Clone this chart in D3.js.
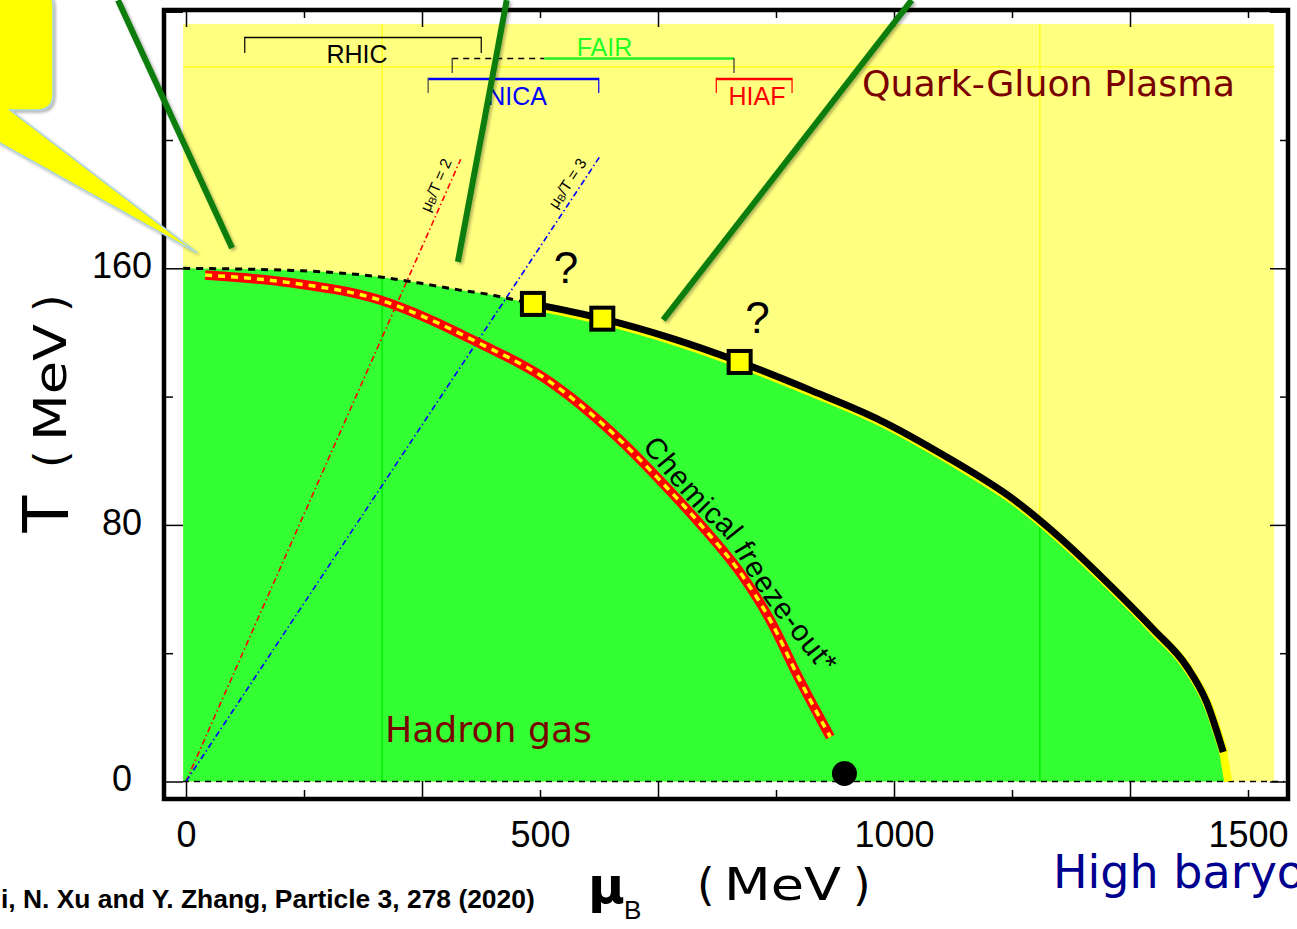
<!DOCTYPE html>
<html><head><meta charset="utf-8">
<script src="https://cdn.jsdelivr.net/npm/d3@7"></script>
<style>
html,body{margin:0;padding:0;background:#fff;overflow:hidden}
svg{display:block}
</style></head><body>
<svg id="chart" width="1297" height="929"></svg>
<script>
// ---------------- data (mu_B and T in MeV) ----------------
const xTickLabels = [0, 500, 1000, 1500];
const yTickLabels = [0, 80, 160];
const xTickStep = 500 / 3;
const yTickStep = 40;

// crossover region (dashed) from mu_B = 0 to the critical point candidates
const crossoverMu = [-4, 165, 274, 330, 387, 434, 467, 490];
const crossoverT  = [160, 159.2, 157.3, 155.4, 153.2, 151.6, 150, 148.9];

// first-order phase boundary
const boundaryMu = [490, 588, 684, 782, 881, 980, 1075, 1171, 1235, 1295, 1366, 1414, 1442, 1465];
const boundaryT  = [148.9, 144.3, 138.3, 130.8, 122.1, 112.7, 101.1, 87.6, 75.9, 63.4, 47.5, 35.7, 24.5, 9.2];
const boundaryEndMu = [1465, 1472];
const boundaryEndT  = [9.2, 0];

// possible critical points
const criticalMu = [490, 588, 782];
const criticalT  = [148.9, 144.3, 130.8];

// chemical freeze-out line
const freezeMu = [27, 151, 274, 340, 411, 504, 613, 669, 730, 787, 825, 867, 910];
const freezeT  = [157.9, 155.4, 150.1, 144.5, 137, 126.1, 106.5, 94, 79.3, 63.8, 50.4, 31.6, 13.9];

// nuclear matter ground state
const nuclearMu = 930;
const nuclearT  = 2.5;

// constant mu_B/T lines
const ratioValues = [2, 3];
const ratioTmax   = [194, 195];

// facility coverage in mu_B
const facilityNames = ["RHIC", "FAIR", "NICA", "HIAF"];
const facilityLo    = [83, 376, 342, 749];
const facilityHi    = [417, 774, 583, 856];
const fairDashedTo  = 506;

// region extents
const regionMuMin = -4.2, regionMuMax = 1537, regionTMax = 236.2;

// pointer lines coming in from the top of the slide: [mu0, T0] -> [mu1, T1]
const pointerMu0 = [-96, 453, 1025];
const pointerT0  = [243.6, 243.6, 243.6];
const pointerMu1 = [65, 384, 674];
const pointerT1  = [166.3, 162, 143.9];
const bubbleTip  = [15.5, 164.8];

// fill seams
const seamMu = [277, 1206];
const seamT  = [222.8];

// ---------------- scales ----------------
const x = d3.scaleLinear().domain([0, 1500]).range([186, 1248]);
const y = d3.scaleLinear().domain([0, 160]).range([781.5, 268.3]);

const frame = {l: 164, r: 1288, t: 10, b: 799};

const svg = d3.select("#chart");
const defs = svg.append("defs");

const sh = defs.append("filter").attr("id", "shadow")
  .attr("x", "-20%").attr("y", "-20%").attr("width", "140%").attr("height", "140%");
sh.append("feDropShadow").attr("dx", 2).attr("dy", 2).attr("stdDeviation", 1.5)
  .attr("flood-color", "#000").attr("flood-opacity", 0.3);

const qgpFill = "#ffff80";
const hadronFill = "#33ff33";

// ---------------- regions ----------------
const greenPts = crossoverMu.map((m, i) => [m, crossoverT[i]])
  .concat(boundaryMu.slice(1).map((m, i) => [m, boundaryT[i + 1]]))
  .concat([[1467, 0]]);
const greenArea = d3.area().x(d => x(d[0])).y0(y(0)).y1(d => y(d[1])).curve(d3.curveMonotoneX);

defs.append("clipPath").attr("id", "greenClip")
  .append("path").attr("d", greenArea(greenPts));

svg.append("rect")
  .attr("x", x(regionMuMin)).attr("y", y(regionTMax))
  .attr("width", x(regionMuMax) - x(regionMuMin)).attr("height", y(0) - y(regionTMax))
  .attr("fill", qgpFill);

function drawSeams(g, color) {
  seamMu.forEach(m => g.append("line")
    .attr("x1", x(m)).attr("x2", x(m)).attr("y1", y(regionTMax)).attr("y2", y(0))
    .attr("stroke", color).attr("stroke-width", 1.5));
  seamT.forEach(t => g.append("line")
    .attr("x1", x(regionMuMin)).attr("x2", x(regionMuMax)).attr("y1", y(t)).attr("y2", y(t))
    .attr("stroke", color).attr("stroke-width", 1.5));
}
drawSeams(svg.append("g"), "#ffff20");

svg.append("path").attr("d", greenArea(greenPts)).attr("fill", hadronFill);
drawSeams(svg.append("g").attr("clip-path", "url(#greenClip)"), "#00ee00");

// ---------------- constant mu_B/T lines ----------------
const ratioColors = ["#ff0000", "#0000ff"];
ratioValues.forEach((r, i) => {
  svg.append("line")
    .attr("x1", x(0)).attr("y1", y(0))
    .attr("x2", x(r * ratioTmax[i])).attr("y2", y(ratioTmax[i]))
    .attr("stroke", ratioColors[i]).attr("stroke-width", 1.6)
    .attr("stroke-dasharray", "6,3,1.5,3");
  // label running along the line
  const tl = 184.4;
  const px = x(r * tl), py = y(tl);
  const dx = x(r * ratioTmax[i]) - x(0), dy = y(ratioTmax[i]) - y(0);
  const len = Math.hypot(dx, dy);
  const nx = dy / len, ny = -dx / len;
  const off = 13;
  const ang = Math.atan2(dy, dx) * 180 / Math.PI;
  const t = svg.append("text")
    .attr("transform", `translate(${px + nx * off},${py + ny * off}) rotate(${ang})`)
    .attr("text-anchor", "middle").attr("dominant-baseline", "central")
    .attr("font-family", "Liberation Sans, Arial, sans-serif").attr("font-size", 15.5)
    .attr("fill", "#000");
  t.append("tspan").text("\u03bc");
  t.append("tspan").attr("font-size", 10.5).attr("dy", 3.5).text("B");
  t.append("tspan").attr("dy", -3.5).text(`/T = ${r}`);
});

// ---------------- T = 0 baseline ----------------
svg.append("line")
  .attr("x1", x(regionMuMin)).attr("x2", x(regionMuMax) + 10)
  .attr("y1", y(0)).attr("y2", y(0))
  .attr("stroke", "#000").attr("stroke-width", 1.4).attr("stroke-dasharray", "6,5");

// ---------------- crossover and phase boundary ----------------
const line = d3.line().x(d => x(d[0])).y(d => y(d[1])).curve(d3.curveMonotoneX);

svg.append("path")
  .attr("d", line(crossoverMu.map((m, i) => [m, crossoverT[i]])))
  .attr("fill", "none").attr("stroke", "#000").attr("stroke-width", 3)
  .attr("stroke-dasharray", "7,6");

const bPts = boundaryMu.map((m, i) => [m, boundaryT[i]]);
svg.append("path")
  .attr("d", d3.line().x(d => x(d[0])).y(d => y(d[1]))(boundaryEndMu.map((m, i) => [m, boundaryEndT[i]])))
  .attr("fill", "none").attr("stroke", "#ffff00").attr("stroke-width", 8);
svg.append("path").attr("d", line(bPts))
  .attr("transform", "translate(1,2)")
  .attr("fill", "none").attr("stroke", "#ffff00").attr("stroke-width", 9);
svg.append("path").attr("d", line(bPts))
  .attr("fill", "none").attr("stroke", "#000").attr("stroke-width", 7);

// ---------------- chemical freeze-out ----------------
const fPts = freezeMu.map((m, i) => [m, freezeT[i]]);
svg.append("path").attr("d", line(fPts))
  .attr("fill", "none").attr("stroke", "#ff0000").attr("stroke-width", 9.5);
svg.append("path").attr("d", line(fPts))
  .attr("fill", "none").attr("stroke", "#ffff00").attr("stroke-width", 3.5)
  .attr("stroke-dasharray", "7,6");

// ---------------- critical point candidates ----------------
svg.selectAll("rect.cp").data(criticalMu.map((m, i) => [m, criticalT[i]])).enter()
  .append("rect").attr("class", "cp")
  .attr("x", d => x(d[0]) - 11).attr("y", d => y(d[1]) - 11)
  .attr("width", 22).attr("height", 22)
  .attr("fill", "#ffff00").attr("stroke", "#000").attr("stroke-width", 4);

svg.append("circle").attr("cx", x(nuclearMu)).attr("cy", y(nuclearT)).attr("r", 12.5).attr("fill", "#000");

// ---------------- labels inside the plot ----------------
const qm = svg.append("g").attr("font-family", "Liberation Sans, Arial, sans-serif").attr("font-size", 44).attr("text-anchor", "middle");
qm.append("text").attr("x", 566).attr("y", 283).text("?");
qm.append("text").attr("x", 757.5).attr("y", 333).text("?");

function fitWidth(sel, w) {
  const l = sel.node().getComputedTextLength();
  sel.attr("font-size", parseFloat(sel.attr("font-size")) * w / l);
}

const qgp = svg.append("text").attr("x", 862).attr("y", 96)
  .attr("font-family", "DejaVu Sans, sans-serif").attr("font-size", 36)
  .attr("fill", "#7a0000").text("Quark-Gluon Plasma");
fitWidth(qgp, 373);

const hg = svg.append("text").attr("x", 385).attr("y", 742)
  .attr("font-family", "DejaVu Sans, sans-serif").attr("font-size", 36)
  .attr("fill", "#7a0000").text("Hadron gas");
fitWidth(hg, 207);

// text running along the freeze-out line
const cfMu = [656, 732, 775, 817, 858, 912];
const cfT  = [106.5, 86.8, 77.8, 62.8, 50.4, 35.5];
defs.append("path").attr("id", "cfPath")
  .attr("d", d3.line().x(d => x(d[0])).y(d => y(d[1])).curve(d3.curveCatmullRom)(cfMu.map((m, i) => [m, cfT[i]])));
svg.append("text")
  .attr("font-family", "Liberation Sans, Arial, sans-serif").attr("font-size", 29.5)
  .attr("dominant-baseline", "central").attr("fill", "#000")
  .append("textPath").attr("href", "#cfPath")
  .attr("textLength", 292).attr("lengthAdjust", "spacing")
  .text("Chemical  freeze-out*");

// ---------------- facility brackets ----------------
const fac = svg.append("g").attr("font-family", "Liberation Sans, Arial, sans-serif").attr("font-size", 25).attr("text-anchor", "middle");
function bracket(lo, hi, yb, drop, color, tickColor, w) {
  fac.append("line").attr("x1", x(lo)).attr("x2", x(hi)).attr("y1", yb).attr("y2", yb)
    .attr("stroke", color).attr("stroke-width", w);
  [lo, hi].forEach((m, k) => fac.append("line").attr("x1", x(m)).attr("x2", x(m))
    .attr("y1", yb - w / 2).attr("y2", yb + drop).attr("stroke", tickColor[k]).attr("stroke-width", 1.2));
}
// RHIC
bracket(facilityLo[0], facilityHi[0], 37.5, 15.5, "#000", ["#000", "#000"], 1.3);
fac.append("text").attr("x", x((facilityLo[0] + facilityHi[0]) / 2) - 6).attr("y", 62.5).attr("fill", "#000").text(facilityNames[0]);
// FAIR
fac.append("line").attr("x1", x(facilityLo[1])).attr("x2", x(fairDashedTo)).attr("y1", 58.5).attr("y2", 58.5)
  .attr("stroke", "#000").attr("stroke-width", 1.3).attr("stroke-dasharray", "6,5");
fac.append("line").attr("x1", x(fairDashedTo)).attr("x2", x(facilityHi[1])).attr("y1", 58.5).attr("y2", 58.5)
  .attr("stroke", "#22ee22").attr("stroke-width", 2.5);
[facilityLo[1], facilityHi[1]].forEach(m => fac.append("line").attr("x1", x(m)).attr("x2", x(m))
  .attr("y1", 58).attr("y2", 73).attr("stroke", "#333").attr("stroke-width", 1.2));
fac.append("text").attr("x", 604.5).attr("y", 56).attr("fill", "#22ff22").text(facilityNames[1]);
// NICA
bracket(facilityLo[2], facilityHi[2], 79, 14, "#0000ff", ["#444", "#0000ff"], 2.5);
fac.append("text").attr("x", 517).attr("y", 105).attr("fill", "#0000ff").text(facilityNames[2]);
// HIAF
bracket(facilityLo[3], facilityHi[3], 79, 14, "#ff0000", ["#ff0000", "#ff0000"], 2.5);
fac.append("text").attr("x", 757).attr("y", 105).attr("fill", "#ff0000").text(facilityNames[3]);

// ---------------- axes ----------------
const xTicks = d3.range(0, 1500 + 1, xTickStep);
const xLong = xTicks.filter((d, i) => i % 2 === 0);
const xShort = xTicks.filter((d, i) => i % 2 === 1);
const yTicks = d3.range(0, 241, yTickStep);
const yLong = yTicks.filter(d => d % 80 === 0);
const yShort = yTicks.filter(d => d % 80 !== 0);

function tickAxis(axis, values, size, transform) {
  const g = svg.append("g").attr("transform", transform)
    .call(axis.tickValues(values).tickSize(size).tickFormat(""));
  g.select(".domain").remove();
  g.selectAll("line").attr("stroke", "#000").attr("stroke-width", 1.5);
}
tickAxis(d3.axisTop(x), xLong, 18, `translate(0,${frame.b})`);
tickAxis(d3.axisTop(x), xShort, 9, `translate(0,${frame.b})`);
tickAxis(d3.axisBottom(x), xLong, 17, `translate(0,${frame.t})`);
tickAxis(d3.axisBottom(x), xShort, 8, `translate(0,${frame.t})`);
tickAxis(d3.axisRight(y), yLong, 19, `translate(${frame.l},0)`);
tickAxis(d3.axisRight(y), yShort, 9, `translate(${frame.l},0)`);
tickAxis(d3.axisLeft(y), yLong, 18, `translate(${frame.r},0)`);
tickAxis(d3.axisLeft(y), yShort, 8, `translate(${frame.r},0)`);

const xl = svg.append("g").attr("transform", `translate(0,${frame.b})`)
  .call(d3.axisBottom(x).tickValues(xTickLabels).tickSize(0).tickPadding(22.5).tickFormat(d3.format("d")));
xl.select(".domain").remove();
xl.selectAll("text").attr("font-family", "Liberation Sans, Arial, sans-serif").attr("font-size", 36).attr("fill", "#000");

const yl = svg.append("g").attr("transform", `translate(${frame.l},0)`)
  .call(d3.axisLeft(y).tickValues(yTickLabels).tickSize(0).tickFormat(d3.format("d")));
yl.select(".domain").remove();
yl.selectAll("text").attr("font-family", "Liberation Sans, Arial, sans-serif").attr("font-size", 36)
  .attr("fill", "#000").attr("text-anchor", "middle").attr("x", -42).attr("dy", "0.26em");

svg.append("rect").attr("x", frame.l).attr("y", frame.t)
  .attr("width", frame.r - frame.l).attr("height", frame.b - frame.t)
  .attr("fill", "none").attr("stroke", "#000").attr("stroke-width", 4.5);

// ---------------- axis titles ----------------
const unitFont = "DejaVu Sans, sans-serif";
// "( MeV )" built from three pieces so the parentheses keep their gaps
function units(g) {
  g.attr("font-family", unitFont).attr("font-size", 45).attr("fill", "#000");
  g.append("text").attr("x", 0).attr("y", 0).text("(");
  g.append("text").attr("x", 27).attr("y", 0)
    .attr("textLength", 117).attr("lengthAdjust", "spacingAndGlyphs").text("MeV");
  g.append("text").attr("x", 156).attr("y", 0).text(")");
}
svg.append("text").attr("transform", "translate(68,514) rotate(-90)")
  .attr("text-anchor", "middle").attr("font-family", "Liberation Sans, Arial, sans-serif")
  .attr("font-size", 66).attr("fill", "#000").text("T");
units(svg.append("g").attr("transform", "translate(66,468) rotate(-90)"));

svg.append("text").attr("x", 588).attr("y", 903)
  .attr("font-family", "DejaVu Sans, sans-serif").attr("font-weight", "bold")
  .attr("font-size", 50).attr("fill", "#000").text("\u03bc");
svg.append("text").attr("x", 624).attr("y", 919)
  .attr("font-family", "Liberation Sans, Arial, sans-serif")
  .attr("font-size", 26).attr("fill", "#000").text("B");
units(svg.append("g").attr("transform", "translate(697,900)"));

// citation and slide caption
const cite = svg.append("text").attr("x", 1).attr("y", 908)
  .attr("font-family", "Liberation Sans, Arial, sans-serif").attr("font-weight", "bold")
  .attr("font-size", 24).attr("fill", "#000")
  .text("i, N. Xu and Y. Zhang, Particle 3, 278 (2020)");
fitWidth(cite, 534);

svg.append("text").attr("x", 1053).attr("y", 888)
  .attr("font-family", "DejaVu Sans, sans-serif").attr("font-size", 46)
  .attr("fill", "#000090").text("High baryon density");

// ---------------- slide annotations ----------------
const pointers = svg.append("g").attr("filter", "url(#shadow)");
pointerMu0.forEach((m, i) => pointers.append("line")
  .attr("x1", x(m)).attr("y1", y(pointerT0[i]))
  .attr("x2", x(pointerMu1[i])).attr("y2", y(pointerT1[i]))
  .attr("stroke", "#0a7d0a").attr("stroke-width", 6));

const tx = x(bubbleTip[0]), ty = y(bubbleTip[1]);
const k = (ty - 143) / (tx - 0);
svg.append("path")
  .attr("d", `M-40,-10 H37 Q53,-10 53,6 V94 Q53,110 37,110 H10 L${tx},${ty} L-10,${143 - 10 * k} L-40,${143 - 10 * k} Z`)
  .attr("fill", "#ffff00").attr("stroke", "#a9d3e0").attr("stroke-width", 1.5)
  .attr("filter", "url(#shadow)");
</script>
</body></html>
